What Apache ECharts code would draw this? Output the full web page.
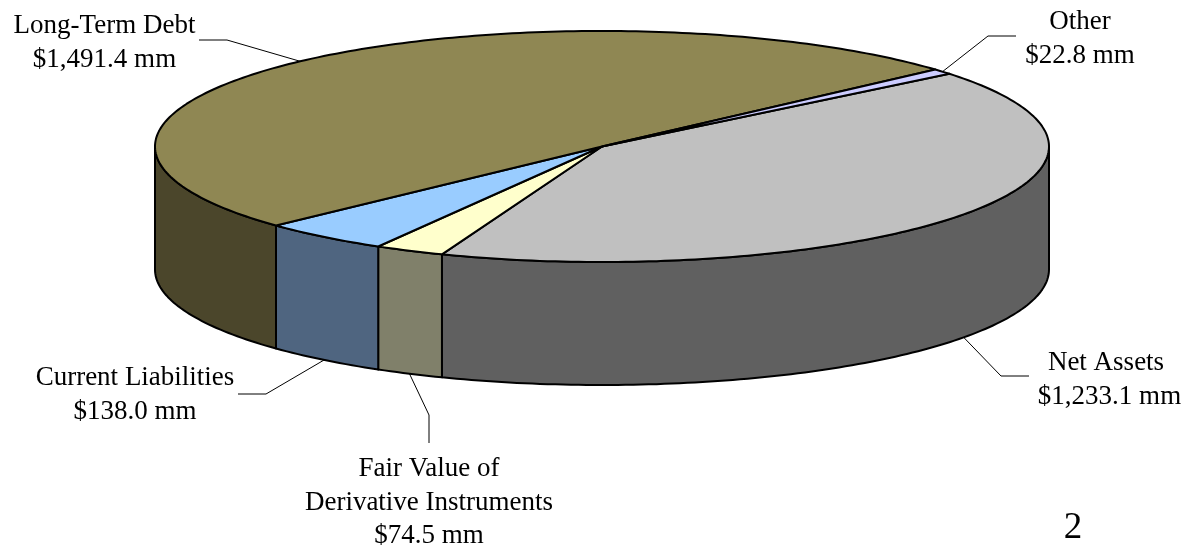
<!DOCTYPE html>
<html>
<head>
<meta charset="utf-8">
<style>html,body{margin:0;padding:0;background:#fff}#c{width:1203px;height:546px}</style>
<script src="https://cdn.jsdelivr.net/npm/echarts@6/dist/echarts.min.js"></script>
</head>
<body>
<div id="c"></div>
<script>
// Data, clockwise from the slice boundary at the upper right
const names = ['Net Assets', 'Fair Value of\nDerivative Instruments', 'Current Liabilities', 'Long-Term Debt', 'Other'];
const values = [1233.1, 74.5, 138.0, 1491.4, 22.8];
const pageNumber = '2';

// Styles
const topColors = ['#C0C0C0', '#FFFFCC', '#99CCFF', '#8F8753', '#CCCCFF'];
const sideColors = ['#606060', '#80806A', '#4F6580', '#4B462B', '#66667F'];

// Layout
const CX = 602, CY = 146.5, RX = 447, RY = 115.5, DEPTH = 123, START = -39;
const FONT = '"Liberation Serif","Times New Roman",serif';
const FONT_SIZE = 27, LINE_H = 33.7;
// leader: elbow and end on the page; label: centre x, first-line centre y, amount-line x shift
const leaders = [
  {elbow: [1001, 376], end: [1029, 376], lx: 1106, ly: 363, vdx: 3.5},
  {elbow: [429, 415], end: [429, 443], lx: 429, ly: 469, vdx: 0},
  {elbow: [266, 394], end: [238, 394], lx: 135, ly: 378, vdx: 0},
  {elbow: [227, 40], end: [199, 40], lx: 104.5, ly: 26, vdx: 0},
  {elbow: [988, 36], end: [1016, 36], lx: 1080, ly: 22, vdx: 0}
];

const total = values.reduce((a, b) => a + b, 0);
const rad = d => d * Math.PI / 180;
const pt = (deg, dy) => [CX + RX * Math.cos(rad(deg)), CY + RY * Math.sin(rad(deg)) + (dy || 0)];
function arc(a0, a1, dy) {
  const out = [], n = Math.max(2, Math.ceil(Math.abs(a1 - a0)));
  for (let i = 0; i <= n; i++) out.push(pt(a0 + (a1 - a0) * i / n, dy));
  return out;
}
const bounds = [];
values.reduce((acc, v, i) => { const s = acc + v / total * 360; bounds[i] = [acc, s]; return s; }, START);

function money(v) {
  return '$' + v.toLocaleString('en-US', {minimumFractionDigits: 1, maximumFractionDigits: 1}) + ' mm';
}

function renderSlice(params, api) {
  const i = params.dataIndex;
  const [a0, a1] = bounds[i];
  const children = [];
  // visible outer wall: the part of the slice within 0..180 degrees
  const s = Math.max(a0, 0), e = Math.min(a1, 180);
  if (e > s) {
    children.push({
      type: 'polygon', z2: 1,
      shape: {points: arc(s, e, 0).concat(arc(e, s, DEPTH))},
      style: {fill: sideColors[i], stroke: '#000', lineWidth: 2, lineJoin: 'round'}
    });
  }
  children.push({
    type: 'polygon', z2: 2,
    shape: {points: [[CX, CY]].concat(arc(a0, a1, 0))},
    style: {fill: topColors[i], stroke: '#000', lineWidth: 2, lineJoin: 'round'}
  });
  // leader from the middle of the slice's rim
  const mid = (a0 + a1) / 2;
  const L = leaders[i];
  const anchor = pt(mid, Math.sin(rad(mid)) > 0 ? DEPTH : 0);
  children.push({
    type: 'polyline', z2: 3,
    shape: {points: [anchor, L.elbow, L.end]},
    style: {fill: 'none', stroke: '#000', lineWidth: 1}
  });
  const nameLines = names[i].split('\n');
  nameLines.concat(money(api.value(0))).forEach((t, k) => children.push({
    type: 'text', z2: 4,
    style: {text: t, x: L.lx + (k === nameLines.length ? L.vdx : 0), y: L.ly + k * LINE_H,
            align: 'center', verticalAlign: 'middle', fill: '#000', font: FONT_SIZE + 'px ' + FONT}
  }));
  return {type: 'group', children};
}

const chart = echarts.init(document.getElementById('c'), null, {renderer: 'canvas'});
chart.setOption({
  animation: false,
  backgroundColor: '#fff',
  tooltip: {show: false},
  graphic: [{
    type: 'text', x: 1073, y: 528, silent: true,
    style: {text: pageNumber, align: 'center', verticalAlign: 'middle', fill: '#000', font: '37px ' + FONT}
  }],
  series: [{
    type: 'custom',
    coordinateSystem: 'none',
    silent: true,
    renderItem: renderSlice,
    data: values.map((v, i) => ({name: names[i], value: [v]}))
  }]
});
</script>
</body>
</html>
